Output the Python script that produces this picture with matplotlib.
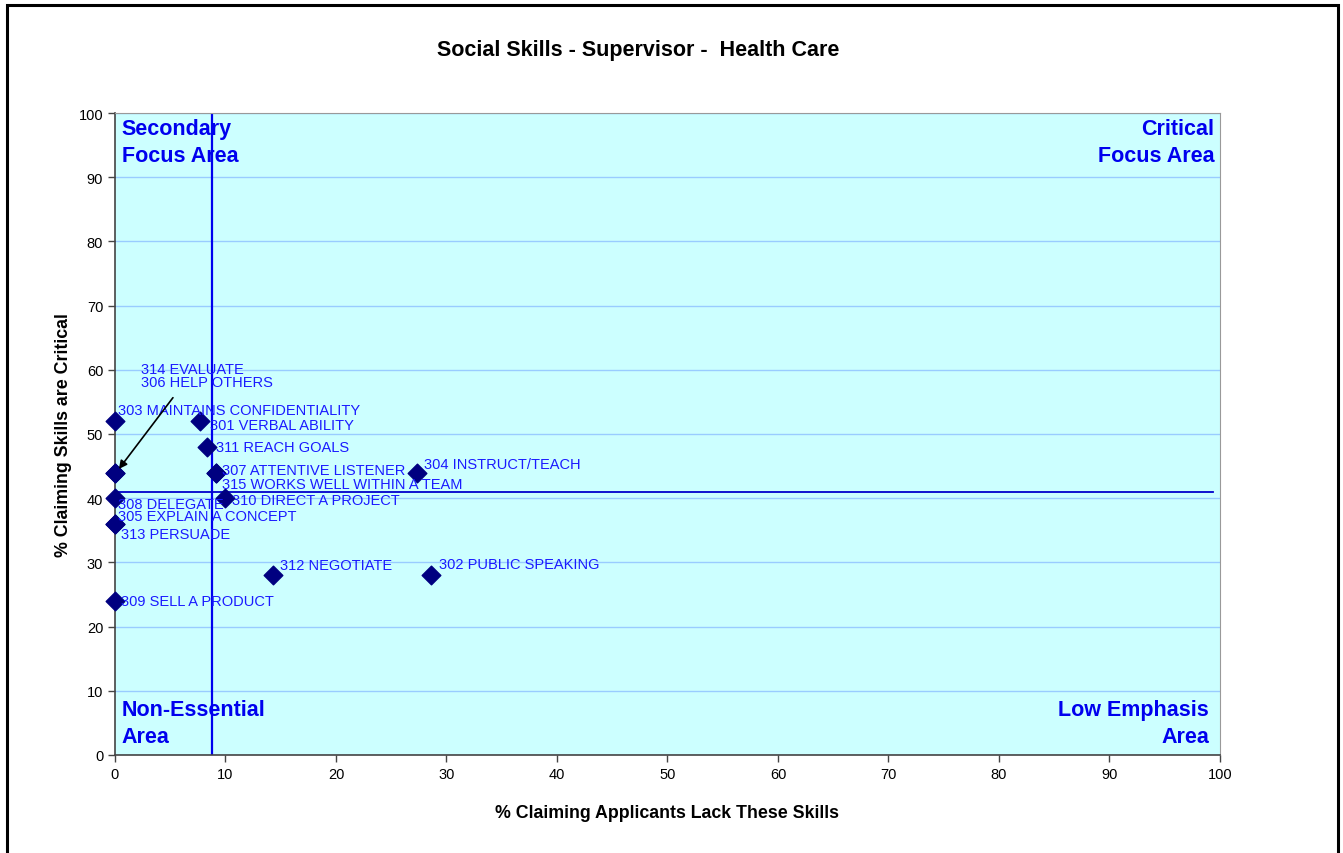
import matplotlib
matplotlib.use("Agg")
import matplotlib.pyplot as plt
from matplotlib.patches import Rectangle

plt.rcParams["font.family"] = ["Liberation Sans", "DejaVu Sans"]

# --- data ------------------------------------------------------------------
SKILLS = ["303 MAINTAINS CONFIDENTIALITY", "301 VERBAL ABILITY", "311 REACH GOALS",
          "314 EVALUATE", "306 HELP OTHERS", "307 ATTENTIVE LISTENER",
          "315 WORKS WELL WITHIN A TEAM", "304 INSTRUCT/TEACH", "308 DELEGATE",
          "310 DIRECT A PROJECT", "305 EXPLAIN A CONCEPT", "313 PERSUADE",
          "309 SELL A PRODUCT", "312 NEGOTIATE", "302 PUBLIC SPEAKING"]
PCT_LACK = [0, 7.7, 8.3, 0, 0, 9.1, 9.1, 27.3, 0, 10.0, 0, 0, 0, 14.3, 28.6]
PCT_CRITICAL = [52, 52, 48, 44, 44, 44, 44, 44, 40, 40, 36, 36, 24, 28, 28]

MEAN_LACK = 8.8
MEAN_CRITICAL = 41.0

# label offsets in points (dx, dy of label's left/centre from the marker)
OFFSETS = {
    "303 MAINTAINS CONFIDENTIALITY": (2, 8),
    "301 VERBAL ABILITY": (7, -3),
    "311 REACH GOALS": (7, 0),
    "307 ATTENTIVE LISTENER": (5, 2),
    "315 WORKS WELL WITHIN A TEAM": (5, -8),
    "304 INSTRUCT/TEACH": (5, 6),
    "308 DELEGATE": (2, -4),
    "310 DIRECT A PROJECT": (5, -1),
    "305 EXPLAIN A CONCEPT": (2, 6),
    "313 PERSUADE": (4, -7),
    "309 SELL A PRODUCT": (4, 0),
    "312 NEGOTIATE": (5, 7),
    "302 PUBLIC SPEAKING": (6, 8),
}

BG = "#ccffff"
GRID = "#99ccff"
LABEL_BLUE = "#1a1aff"
QUAD_BLUE = "#0000ee"
MARKER = "#000080"

fig = plt.figure(figsize=(13.43, 8.54), dpi=100)
fig.patches.append(Rectangle((0.0055, -0.01), 0.9905, 1.003, transform=fig.transFigure,
                             fill=False, edgecolor="black", lw=2.2))
ax = fig.add_axes([0.0856, 0.1148, 0.8228, 0.7517])
ax.set_facecolor(BG)
ax.set_xlim(0, 100)
ax.set_ylim(0, 100)
ax.set_xticks(range(0, 101, 10))
ax.set_yticks(range(0, 101, 10))
ax.tick_params(direction="out", length=5, width=1, labelsize=10.5, colors="#444444",
               labelcolor="black")
ax.yaxis.grid(True, color=GRID, lw=1)
ax.set_axisbelow(True)
for side in ("top", "right"):
    ax.spines[side].set_color("#999999")
for side in ("left", "bottom"):
    ax.spines[side].set_color("#444444")
    ax.spines[side].set_linewidth(1.2)

ax.axvline(MEAN_LACK, color="#0000ee", lw=1.6, zorder=2)
ax.plot([0, 99.4], [MEAN_CRITICAL, MEAN_CRITICAL], color="#0000cc", lw=1.3, zorder=2)

ax.scatter(PCT_LACK, PCT_CRITICAL, marker="D", s=90, color=MARKER, zorder=4,
           clip_on=False)

for name, x, y in zip(SKILLS, PCT_LACK, PCT_CRITICAL):
    if name not in OFFSETS:
        continue
    dx, dy = OFFSETS[name]
    ax.annotate(name, (x, y), xytext=(dx, dy), textcoords="offset points",
                ha="left", va="center", fontsize=10.5, color=LABEL_BLUE, zorder=5)

# callout for the two overlapping points at (0, 44)
ax.annotate("314 EVALUATE\n306 HELP OTHERS", (0, 44), xytext=(2.4, 59.1),
            ha="left", va="center", fontsize=10.5, color=LABEL_BLUE, linespacing=0.95,
            zorder=5)
ax.annotate("", (0.2, 44.2), xytext=(5.4, 56.0),
            arrowprops=dict(arrowstyle="-|>", color="black", lw=1.2,
                            mutation_scale=12), zorder=5)

qkw = dict(fontsize=15.5, fontweight="bold", color=QUAD_BLUE, linespacing=1.4,
           transform=ax.transAxes, zorder=5)
ax.text(0.006, 0.993, "Secondary\nFocus Area", ha="left", va="top", **qkw)
ax.text(0.995, 0.993, "Critical\nFocus Area", ha="right", va="top", **qkw)
ax.text(0.006, 0.012, "Non-Essential\nArea", ha="left", va="bottom", **qkw)
ax.text(0.99, 0.012, "Low Emphasis\nArea", ha="right", va="bottom", multialignment="right",
        **qkw)

ax.set_xlabel("% Claiming Applicants Lack These Skills", fontsize=12.8,
              fontweight="bold", labelpad=17)
ax.set_ylabel("% Claiming Skills are Critical", fontsize=12.8, fontweight="bold",
              labelpad=5)
fig.text(0.4755, 0.941, "Social Skills - Supervisor -  Health Care", ha="center",
         va="center", fontsize=15.5, fontweight="bold")

fig.savefig("out.png", dpi=100)
